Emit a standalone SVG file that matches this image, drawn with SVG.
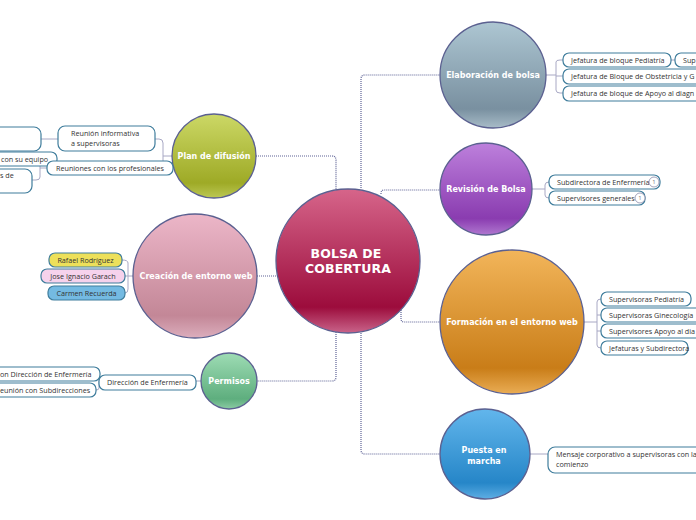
<svg xmlns="http://www.w3.org/2000/svg" width="696" height="520" viewBox="0 0 696 520">
<defs>
<linearGradient id="gC" x1="0" y1="0" x2="0" y2="1"><stop offset="0" stop-color="#d6658a"/><stop offset="0.82" stop-color="#9c0c3c"/><stop offset="1" stop-color="#c9648a"/></linearGradient>
<linearGradient id="gE" x1="0" y1="0" x2="0" y2="1"><stop offset="0" stop-color="#adc6d2"/><stop offset="0.82" stop-color="#7990a0"/><stop offset="1" stop-color="#a8bcc8"/></linearGradient>
<linearGradient id="gR" x1="0" y1="0" x2="0" y2="1"><stop offset="0" stop-color="#bd80dc"/><stop offset="0.82" stop-color="#8a3cb0"/><stop offset="1" stop-color="#b078d0"/></linearGradient>
<linearGradient id="gF" x1="0" y1="0" x2="0" y2="1"><stop offset="0" stop-color="#f2b55a"/><stop offset="0.82" stop-color="#c97d18"/><stop offset="1" stop-color="#eaad55"/></linearGradient>
<linearGradient id="gP" x1="0" y1="0" x2="0" y2="1"><stop offset="0" stop-color="#62b6ec"/><stop offset="0.82" stop-color="#2686c8"/><stop offset="1" stop-color="#5eaee4"/></linearGradient>
<linearGradient id="gD" x1="0" y1="0" x2="0" y2="1"><stop offset="0" stop-color="#ccd866"/><stop offset="0.82" stop-color="#9eaa26"/><stop offset="1" stop-color="#bcc855"/></linearGradient>
<linearGradient id="gW" x1="0" y1="0" x2="0" y2="1"><stop offset="0" stop-color="#ecb6c8"/><stop offset="0.82" stop-color="#c38797"/><stop offset="1" stop-color="#dcaebd"/></linearGradient>
<linearGradient id="gM" x1="0" y1="0" x2="0" y2="1"><stop offset="0" stop-color="#9edcb4"/><stop offset="0.82" stop-color="#5eae7e"/><stop offset="1" stop-color="#8ccca4"/></linearGradient>
</defs>
<style>
.node{stroke:#5b6090;stroke-width:1.3}
.nt{font-family:"DejaVu Sans",sans-serif;font-weight:bold;font-size:8px;fill:#fff;text-anchor:middle}
.ct{font-family:"DejaVu Sans",sans-serif;font-weight:bold;font-size:12.5px;fill:#fff;text-anchor:middle;letter-spacing:0.1px}
.pill{fill:#fff;stroke:#3f7d9c;stroke-width:1.2}
.pt{font-family:"Open Sans",sans-serif;font-size:7.2px;fill:#333}
.main{fill:none;stroke:#5e6396;stroke-width:1.2;stroke-dasharray:1 1}
.sub{fill:none;stroke:#a8a8c4;stroke-width:1}
.badge{fill:#fff;stroke:#8a8aa8;stroke-width:0.8}
.bt{font-family:"Open Sans",sans-serif;font-size:6px;fill:#777;text-anchor:middle}
</style>
<g id="connectors">
<path class="main" d="M361,188 V79 Q361,75 365,75 H440"/>
<path class="main" d="M381,194 V193 Q381,190 384,190 H440"/>
<path class="main" d="M401,310 V319 Q401,322 404,322 H440"/>
<path class="main" d="M361,333 V450 Q361,454 365,454 H440"/>
<path class="main" d="M256,156 H332 Q336,156 336,160 V190"/>
<path class="main" d="M336,332 V377 Q336,381 332,381 H257"/>
<path class="main" d="M257,276 H276"/>
<path class="sub" d="M546,75 H556 M556,62 Q556,60 560,60 H563 M556,62 V90 Q556,93 560,93 H563 M556,76 H563 M671,60 H675"/>
<path class="sub" d="M532,189 H545 M545,185 Q545,182 549,182 M545,185 V195 Q545,198 549,198"/>
<path class="sub" d="M584,322 H597 M597,302 Q597,299 601,299 M597,302 V345 Q597,348 601,348 M597,315 H601 M597,331 H601"/>
<path class="sub" d="M530,454 H548"/>
<path class="sub" d="M172,156 H163 V143 Q163,139 159,139 H155 M163,156 V168 H173"/>
<path class="sub" d="M58,139 H41"/>
<path class="sub" d="M47,168 H40 M40,163 Q40,160 37,160 M40,163 V177 Q40,180 36,180 H32"/>
<path class="sub" d="M201,381 H196"/>
<path class="sub" d="M99,382 V377 Q99,374 100,374 M99,382 V388 Q99,390 96,390"/>
<path class="sub" d="M133,276 H128 M128,263 Q128,260 122,260 M128,263 V289 Q128,293 125,293 M128,276 H125"/>
</g>
<g id="central"><circle class="node" cx="348" cy="261" r="72" fill="url(#gC)"/><text class="ct" x="346" y="258">BOLSA DE</text><text class="ct" x="348" y="273">COBERTURA</text></g>
<g id="elaboracion"><circle class="node" cx="493" cy="75" r="53" fill="url(#gE)"/><text class="nt" x="493" y="78">Elaboración de bolsa</text></g>
<g id="revision"><circle class="node" cx="486" cy="189" r="46" fill="url(#gR)"/><text class="nt" x="486" y="192">Revisión de Bolsa</text></g>
<g id="formacion"><circle class="node" cx="512" cy="322" r="72" fill="url(#gF)"/><text class="nt" x="512" y="325">Formación en el entorno web</text></g>
<g id="puesta"><circle class="node" cx="485" cy="454" r="45" fill="url(#gP)"/><text class="nt" x="484" y="453">Puesta en</text><text class="nt" x="484" y="464">marcha</text></g>
<g id="plan"><circle class="node" cx="214" cy="156" r="42" fill="url(#gD)"/><text class="nt" x="214" y="159">Plan de difusión</text></g>
<g id="creacion"><circle class="node" cx="195" cy="276" r="62" fill="url(#gW)"/><text class="nt" x="196" y="279">Creación de entorno web</text></g>
<g id="permisos"><circle class="node" cx="229" cy="381" r="28" fill="url(#gM)"/><text class="nt" x="229" y="384">Permisos</text></g>
<g id="e1"><rect class="pill" x="563" y="53" width="108" height="14" rx="6"/><text class="pt" x="571" y="63">Jefatura de bloque Pediatría</text></g>
<g id="e1a"><rect class="pill" x="675" y="53" width="40" height="14" rx="6"/><text class="pt" x="683" y="63">Sup</text></g>
<g id="e2"><rect class="pill" x="563" y="69" width="150" height="15" rx="6"/><text class="pt" x="571" y="79">Jefatura de Bloque de Obstetricia y G</text></g>
<g id="e3"><rect class="pill" x="563" y="86" width="150" height="15" rx="6"/><text class="pt" x="571" y="96">Jefatura de bloque de Apoyo al diagn</text></g>
<g id="r1"><rect class="pill" x="549" y="175" width="111" height="14" rx="6"/><text class="pt" x="557" y="185">Subdirectora de Enfermería</text><circle class="badge" cx="654" cy="182" r="5"/><text class="bt" x="654" y="184">1</text></g>
<g id="r2"><rect class="pill" x="549" y="191" width="96" height="14" rx="6"/><text class="pt" x="557" y="201">Supervisores generales</text><circle class="badge" cx="640" cy="198" r="5"/><text class="bt" x="640" y="200">1</text></g>
<g id="f1"><rect class="pill" x="601" y="292" width="90" height="14" rx="6"/><text class="pt" x="609" y="302">Supervisoras Pediatría</text></g>
<g id="f2"><rect class="pill" x="601" y="308" width="110" height="14" rx="6"/><text class="pt" x="609" y="318">Supervisoras Ginecología</text></g>
<g id="f3"><rect class="pill" x="601" y="324" width="110" height="14" rx="6"/><text class="pt" x="609" y="334">Supervisores Apoyo al dia</text></g>
<g id="f4"><rect class="pill" x="601" y="341" width="87" height="14" rx="6"/><text class="pt" x="609" y="351">Jefaturas y Subdirectora</text></g>
<g id="p1"><rect class="pill" x="548" y="447" width="160" height="26" rx="7"/><text class="pt" x="556" y="457">Mensaje corporativo a supervisoras con la</text><text class="pt" x="556" y="467">comienzo</text></g>
<g id="d0"><rect class="pill" x="-10" y="127" width="51" height="24" rx="7"/></g>
<g id="d1"><rect class="pill" x="58" y="126" width="97" height="25" rx="7"/><text class="pt" x="71" y="136">Reunión informativa</text><text class="pt" x="71" y="146">a supervisoras</text></g>
<g id="d3"><rect class="pill" x="-10" y="152" width="67" height="14" rx="6"/><text class="pt" x="1" y="162">con su equipo</text></g>
<g id="d4"><rect class="pill" x="-10" y="169" width="42" height="24" rx="7"/><text class="pt" x="0" y="178">s de</text></g>
<g id="d2"><rect class="pill" x="47" y="161" width="126" height="14" rx="6"/><text class="pt" x="56" y="171">Reuniones con los profesionales</text></g>
<g id="w1"><rect class="pill" x="49" y="253" width="73" height="14" rx="6" style="fill:#ede05a"/><text class="pt" x="85.5" y="263" text-anchor="middle">Rafael Rodríguez</text></g>
<g id="w2"><rect class="pill" x="41" y="269" width="84" height="14" rx="6" style="fill:#f6d2ec"/><text class="pt" x="83" y="279" text-anchor="middle">Jose Ignacio Garach</text></g>
<g id="w3"><rect class="pill" x="48" y="286" width="77" height="14" rx="6" style="fill:#74bae2"/><text class="pt" x="86.5" y="296" text-anchor="middle">Carmen Recuerda</text></g>
<g id="m1"><rect class="pill" x="99" y="375" width="97" height="15" rx="6"/><text class="pt" x="107" y="385">Dirección de Enfermería</text></g>
<g id="m2"><rect class="pill" x="-10" y="367" width="110" height="14" rx="6"/><text class="pt" x="0" y="377">on Dirección de Enfermería</text></g>
<g id="m3"><rect class="pill" x="-10" y="383" width="106" height="14" rx="6"/><text class="pt" x="0" y="393">eunión con Subdirecciones</text></g>
</svg>
